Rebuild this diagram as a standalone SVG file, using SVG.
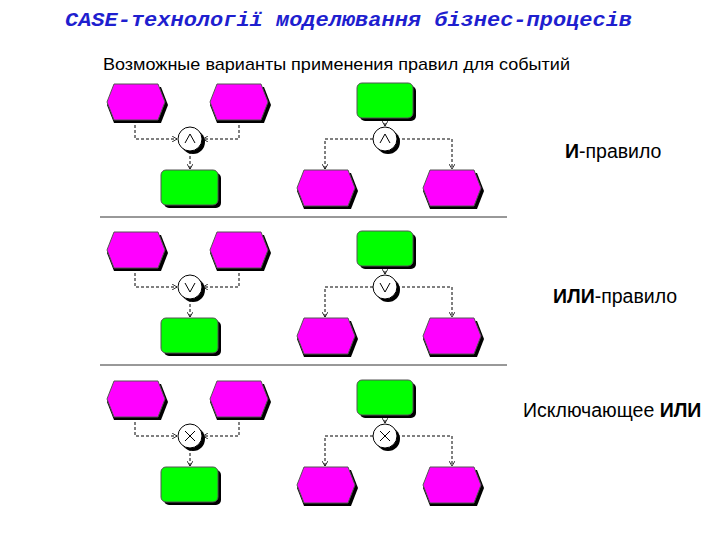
<svg xmlns="http://www.w3.org/2000/svg" width="720" height="540" viewBox="0 0 720 540">
<style>
.m{fill:#ff00ff;stroke:#555;stroke-width:1}
.g{fill:#00ff00;stroke:#555;stroke-width:1}
.sh{fill:#000}
.c{fill:none;stroke:#000;stroke-width:1;stroke-dasharray:3,2}
.op{fill:#fff;stroke:#000;stroke-width:1}
.sym{fill:none;stroke:#000;stroke-width:1}
.t{font-family:"Liberation Sans",Arial,sans-serif;font-size:19.5px;fill:#000}
</style>
<defs>
<marker id="a" markerWidth="6" markerHeight="6" refX="5" refY="3" orient="auto"><path d="M0,0 L5,3 L0,6" fill="none" stroke="#000" stroke-width="0.8"/></marker>
</defs>
<rect width="720" height="540" fill="#fff"/>
<text x="65" y="26" textLength="567" lengthAdjust="spacingAndGlyphs" font-family="'Liberation Mono','Courier New',monospace" font-size="21" font-weight="bold" font-style="italic" fill="#1f1fcf">CASE-технології моделювання бізнес-процесів</text>
<text x="103" y="70" textLength="467" lengthAdjust="spacingAndGlyphs" font-family="'Liberation Sans',Arial,sans-serif" font-size="17" fill="#000">Возможные варианты применения правил для событий</text>
<line x1="100" y1="217" x2="507" y2="217" stroke="#333"/>
<line x1="100" y1="365" x2="507" y2="365" stroke="#333"/>
<text x="565" y="158" class="t"><tspan font-weight="bold">И</tspan>-правило</text>
<text x="553" y="303" class="t"><tspan font-weight="bold">ИЛИ</tspan>-правило</text>
<text x="523" y="417" class="t">Исключающее <tspan font-weight="bold">ИЛИ</tspan></text>

<g id="row1">
 <g id="connectors1">
  <path class="c" d="M135,120 V139 H177" marker-end="url(#a)"/>
  <path class="c" d="M239,120 V139 H203" marker-end="url(#a)"/>
  <path class="c" d="M190,151 V169" marker-end="url(#a)"/>
  <path class="c" d="M385,118 V126" marker-end="url(#a)"/>
  <path class="c" d="M373,139 H325 V169" marker-end="url(#a)"/>
  <path class="c" d="M397,139 H452 V169" marker-end="url(#a)"/>
 </g>
</g>
<g id="row2" transform="translate(0,148)">
 <g id="connectors2">
  <path class="c" d="M135,120 V139 H177" marker-end="url(#a)"/>
  <path class="c" d="M239,120 V139 H203" marker-end="url(#a)"/>
  <path class="c" d="M190,151 V169" marker-end="url(#a)"/>
  <path class="c" d="M385,118 V126" marker-end="url(#a)"/>
  <path class="c" d="M373,139 H325 V169" marker-end="url(#a)"/>
  <path class="c" d="M397,139 H452 V169" marker-end="url(#a)"/>
 </g>
</g>
<g id="row3" transform="translate(0,297)">
 <g id="connectors3">
  <path class="c" d="M135,120 V139 H177" marker-end="url(#a)"/>
  <path class="c" d="M239,120 V139 H203" marker-end="url(#a)"/>
  <path class="c" d="M190,151 V169" marker-end="url(#a)"/>
  <path class="c" d="M385,118 V126" marker-end="url(#a)"/>
  <path class="c" d="M373,139 H325 V169" marker-end="url(#a)"/>
  <path class="c" d="M397,139 H452 V169" marker-end="url(#a)"/>
 </g>
</g>

<g id="n1">
 <g id="r1-e1"><polygon class="sh" points="114,87 161,87 168,105 161,123 114,123 107,105"/><polygon class="m" points="114,84 158,84 165,102 158,120 114,120 107,102"/></g>
 <g id="r1-e2" transform="translate(103,0)"><polygon class="sh" points="114,87 161,87 168,105 161,123 114,123 107,105"/><polygon class="m" points="114,84 158,84 165,102 158,120 114,120 107,102"/></g>
 <g id="r1-f1"><rect class="sh" x="164" y="173" width="57" height="35" rx="5"/><rect class="g" x="161" y="170" width="57" height="35" rx="5"/></g>
 <g id="r1-op1"><circle class="sh" cx="193" cy="142" r="12"/><circle class="op" cx="190" cy="139" r="12"/><path class="sym" d="M185,143 L190,134 L195,143"/></g>
 <g id="r1-f2"><rect class="sh" x="360" y="86" width="56" height="35" rx="5"/><rect class="g" x="357" y="83" width="56" height="35" rx="5"/></g>
 <g id="r1-op2"><circle class="sh" cx="388" cy="142" r="12"/><circle class="op" cx="385" cy="139" r="12"/><path class="sym" d="M380,143 L385,134 L390,143"/></g>
 <g id="r1-e3" transform="translate(190,86)"><polygon class="sh" points="114,87 161,87 168,105 161,123 114,123 107,105"/><polygon class="m" points="114,84 158,84 165,102 158,120 114,120 107,102"/></g>
 <g id="r1-e4" transform="translate(316,86)"><polygon class="sh" points="114,87 161,87 168,105 161,123 114,123 107,105"/><polygon class="m" points="114,84 158,84 165,102 158,120 114,120 107,102"/></g>
</g>
<g id="n2" transform="translate(0,148)">
 <g id="r2-e1"><polygon class="sh" points="114,87 161,87 168,105 161,123 114,123 107,105"/><polygon class="m" points="114,84 158,84 165,102 158,120 114,120 107,102"/></g>
 <g id="r2-e2" transform="translate(103,0)"><polygon class="sh" points="114,87 161,87 168,105 161,123 114,123 107,105"/><polygon class="m" points="114,84 158,84 165,102 158,120 114,120 107,102"/></g>
 <g id="r2-f1"><rect class="sh" x="164" y="173" width="57" height="35" rx="5"/><rect class="g" x="161" y="170" width="57" height="35" rx="5"/></g>
 <g id="r2-op1"><circle class="sh" cx="193" cy="142" r="12"/><circle class="op" cx="190" cy="139" r="12"/><path class="sym" d="M185,135 L190,144 L195,135"/></g>
 <g id="r2-f2"><rect class="sh" x="360" y="86" width="56" height="35" rx="5"/><rect class="g" x="357" y="83" width="56" height="35" rx="5"/></g>
 <g id="r2-op2"><circle class="sh" cx="388" cy="142" r="12"/><circle class="op" cx="385" cy="139" r="12"/><path class="sym" d="M380,135 L385,144 L390,135"/></g>
 <g id="r2-e3" transform="translate(190,86)"><polygon class="sh" points="114,87 161,87 168,105 161,123 114,123 107,105"/><polygon class="m" points="114,84 158,84 165,102 158,120 114,120 107,102"/></g>
 <g id="r2-e4" transform="translate(316,86)"><polygon class="sh" points="114,87 161,87 168,105 161,123 114,123 107,105"/><polygon class="m" points="114,84 158,84 165,102 158,120 114,120 107,102"/></g>
</g>
<g id="n3" transform="translate(0,297)">
 <g id="r3-e1"><polygon class="sh" points="114,87 161,87 168,105 161,123 114,123 107,105"/><polygon class="m" points="114,84 158,84 165,102 158,120 114,120 107,102"/></g>
 <g id="r3-e2" transform="translate(103,0)"><polygon class="sh" points="114,87 161,87 168,105 161,123 114,123 107,105"/><polygon class="m" points="114,84 158,84 165,102 158,120 114,120 107,102"/></g>
 <g id="r3-f1"><rect class="sh" x="164" y="173" width="57" height="35" rx="5"/><rect class="g" x="161" y="170" width="57" height="35" rx="5"/></g>
 <g id="r3-op1"><circle class="sh" cx="193" cy="142" r="12"/><circle class="op" cx="190" cy="139" r="12"/><path class="sym" d="M185,134 L195,144 M195,134 L185,144"/></g>
 <g id="r3-f2"><rect class="sh" x="360" y="86" width="56" height="35" rx="5"/><rect class="g" x="357" y="83" width="56" height="35" rx="5"/></g>
 <g id="r3-op2"><circle class="sh" cx="388" cy="142" r="12"/><circle class="op" cx="385" cy="139" r="12"/><path class="sym" d="M380,134 L390,144 M390,134 L380,144"/></g>
 <g id="r3-e3" transform="translate(190,86)"><polygon class="sh" points="114,87 161,87 168,105 161,123 114,123 107,105"/><polygon class="m" points="114,84 158,84 165,102 158,120 114,120 107,102"/></g>
 <g id="r3-e4" transform="translate(316,86)"><polygon class="sh" points="114,87 161,87 168,105 161,123 114,123 107,105"/><polygon class="m" points="114,84 158,84 165,102 158,120 114,120 107,102"/></g>
</g>
</svg>
